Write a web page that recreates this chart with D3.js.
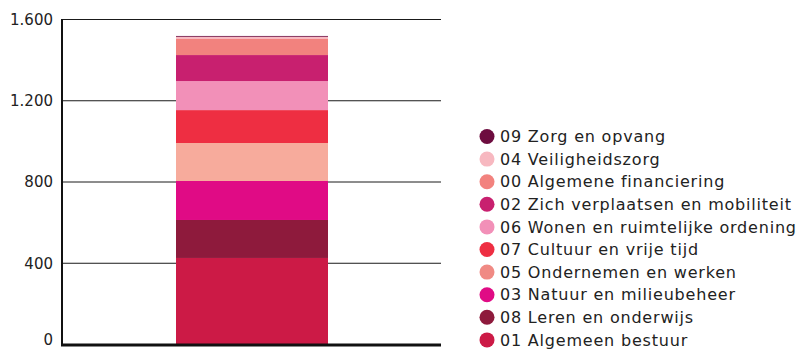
<!DOCTYPE html>
<html>
<head>
<meta charset="utf-8">
<script src="https://cdn.jsdelivr.net/npm/d3@7"></script>
<style>
  html, body { margin: 0; padding: 0; background: #fff; }
  svg { display: block; }
  text { font-family: "DejaVu Sans", sans-serif; fill: #222; }
</style>
</head>
<body>
<svg id="chart" width="800" height="350"></svg>
<script>
// Budget categories, stacked bottom to top
const categories = [
  "01 Algemeen bestuur",
  "08 Leren en onderwijs",
  "03 Natuur en milieubeheer",
  "05 Ondernemen en werken",
  "07 Cultuur en vrije tijd",
  "06 Wonen en ruimtelijke ordening",
  "02 Zich verplaatsen en mobiliteit",
  "00 Algemene financiering",
  "04 Veiligheidszorg",
  "09 Zorg en opvang"
];
const values = [426, 187, 192, 187, 162, 143, 128, 79, 11, 4];
const colors = [
  "#cc1a46", "#8e1a3c", "#e00b85", "#f7ab9c", "#ee2e42",
  "#f290b8", "#c8206f", "#f2827e", "#f7b8c0", "#6d0c3f"
];
const yTicks = [0, 400, 800, 1200, 1600];
const yTickLabels = ["0", "400", "800", "1.200", "1.600"];

const svg = d3.select("#chart");

const y = d3.scaleLinear().domain([0, 1600]).range([344.5, 19.5]);

// Horizontal gridlines
svg.append("g")
  .selectAll("line")
  .data(yTicks.filter(d => d > 0))
  .join("line")
  .attr("x1", 62).attr("x2", 441)
  .attr("y1", d => y(d)).attr("y2", d => y(d))
  .attr("stroke", "#1a1a1a").attr("stroke-width", 1);

// Stack the single column
const row = {};
categories.forEach((c, i) => { row[c] = values[i]; });
const stack = d3.stack().keys(categories)([row]);

svg.append("g")
  .selectAll("rect")
  .data(stack)
  .join("rect")
  .attr("x", 176)
  .attr("width", 152)
  .attr("y", d => y(d[0][1]))
  .attr("height", d => y(d[0][0]) - y(d[0][1]))
  .attr("fill", (d, i) => colors[i]);

// Y axis
const yAxis = d3.axisLeft(y)
  .tickValues(yTicks)
  .tickFormat((d, i) => yTickLabels[i])
  .tickSize(0)
  .tickPadding(9);
const gy = svg.append("g").attr("transform", "translate(62,0)").call(yAxis);
gy.select(".domain").remove();
gy.selectAll("text")
  .style("font-family", '"DejaVu Sans", sans-serif')
  .style("font-size", "15px")
  .attr("fill", "#222");
// keep the bottom label inside the frame
gy.selectAll(".tick")
  .filter(d => d === 0)
  .select("text")
  .attr("dy", "0.02em");

// Axis lines
svg.append("line")
  .attr("x1", 62).attr("x2", 62)
  .attr("y1", y(1600) - 0.5).attr("y2", y(0) + 1.5)
  .attr("stroke", "#111").attr("stroke-width", 2);
svg.append("line")
  .attr("x1", 61).attr("x2", 441)
  .attr("y1", y(0) + 0.5).attr("y2", y(0) + 0.5)
  .attr("stroke", "#111").attr("stroke-width", 3);

// Legend, top to bottom in reverse stack order
const legendItems = categories.map((c, i) => ({ name: c, color: colors[i] })).reverse();
const legendColors = {
  "05 Ondernemen en werken": "#f08a84"
};
const lg = svg.append("g")
  .selectAll("g")
  .data(legendItems)
  .join("g")
  .attr("transform", (d, i) => `translate(487,${136.5 + i * 22.6})`);
lg.append("circle")
  .attr("r", 7.5)
  .attr("fill", d => legendColors[d.name] || d.color);
lg.append("text")
  .attr("x", 13)
  .attr("dy", "0.36em")
  .style("font-size", "16px")
  .style("letter-spacing", "0.8px")
  .text(d => d.name);
</script>
</body>
</html>
